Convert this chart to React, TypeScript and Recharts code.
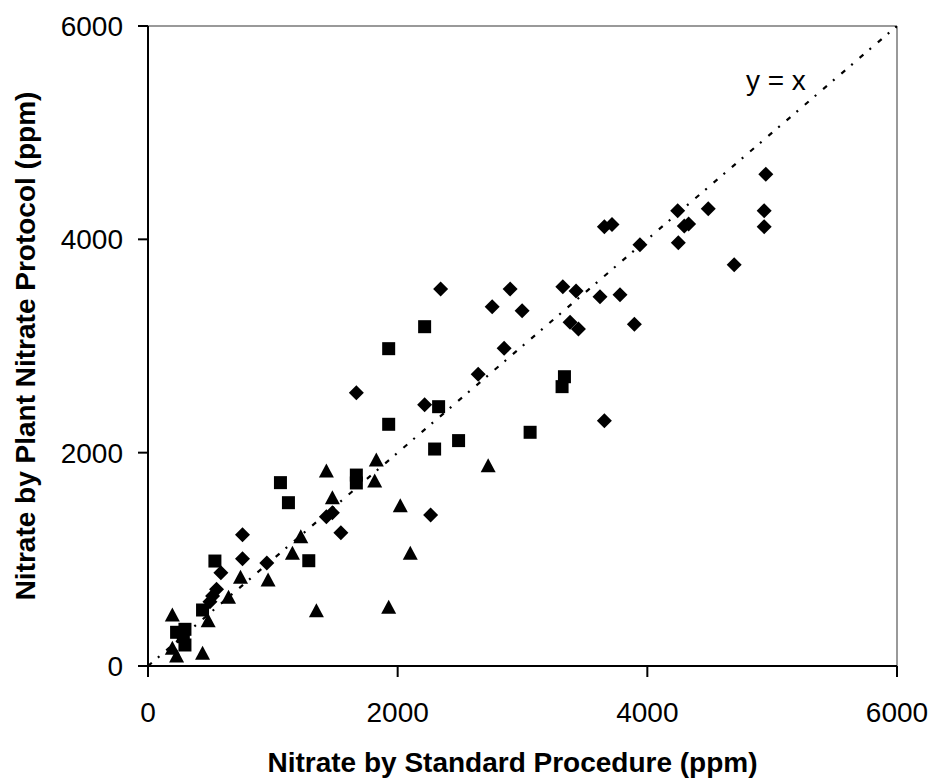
import { Label, ReferenceDot, ReferenceLine, Scatter, ScatterChart, XAxis, YAxis } from "recharts";

const FONT = "'Liberation Sans', Arial, Helvetica, sans-serif";

const axisTicks = [0, 2000, 4000, 6000];

// series 1: diamonds
const diamondX = [
  4949, 4936, 4936, 4696, 4488, 4243, 4296, 4331, 4248, 3941, 3656, 3717, 3323, 3429, 3621, 3781, 3381, 3448,
  3896, 3656, 2344, 2901, 2757, 2997, 2853, 2645, 1669, 2216, 2264, 1545, 1477, 1429, 757, 757, 584, 952, 549,
  517, 496,
];
const diamondY = [
  4610, 4269, 4119, 3762, 4287, 4269, 4125, 4144, 3969, 3950, 4119, 4138, 3556, 3516, 3462, 3481, 3222, 3159,
  3203, 2300, 3534, 3534, 3369, 3331, 2978, 2734, 2562, 2450, 1416, 1250, 1437, 1400, 1231, 1006, 875, 966, 719,
  656, 603,
];

// series 2: squares
const squareX = [3336, 3317, 2216, 1928, 2328, 1928, 2296, 2488, 3061, 1669, 1669, 1061, 1125, 1288, 536, 437, 229, 296, 283, 296];
const squareY = [2712, 2619, 3181, 2975, 2431, 2266, 2034, 2113, 2191, 1790, 1716, 1719, 1531, 987, 984, 525, 316, 344, 275, 197];

// series 3: triangles
const triangleX = [1829, 2725, 1816, 2021, 2101, 1928, 1429, 1477, 1224, 1157, 1349, 741, 962, 645, 482, 195, 195, 229, 437];
const triangleY = [1931, 1878, 1734, 1503, 1056, 550, 1828, 1578, 1212, 1056, 519, 831, 806, 644, 425, 478, 166, 94, 119];

const identityLine = [
  { x: 0, y: 0 },
  { x: 6000, y: 6000 },
];

const toPoints = (xs: number[], ys: number[]) => xs.map((x, i) => ({ x, y: ys[i] }));

const DiamondShape = (p: any) => (
  <polygon
    points={`${p.cx},${p.cy - 7.5} ${p.cx + 7.5},${p.cy} ${p.cx},${p.cy + 7.5} ${p.cx - 7.5},${p.cy}`}
    fill="#000"
  />
);
const SquareShape = (p: any) => <rect x={p.cx - 6.5} y={p.cy - 6.5} width={13} height={13} fill="#000" />;
const TriangleShape = (p: any) => (
  <polygon
    points={`${p.cx},${p.cy - 7.5} ${p.cx + 7.5},${p.cy + 6.5} ${p.cx - 7.5},${p.cy + 6.5}`}
    fill="#000"
  />
);
const EndDot = (p: any) => <circle cx={p.cx} cy={p.cy} r={2.4} fill="#000" />;

const tickStyle = { fontSize: 28, fill: "#000", fontFamily: FONT };

export default function App() {
  return (
    <div style={{ position: "absolute", left: 0, top: 0, width: 930, height: 778, background: "#fff" }}>
      <ScatterChart width={930} height={778} margin={{ top: 26, right: 33, bottom: 0, left: 0 }}>
        <XAxis
          type="number"
          dataKey="x"
          domain={[0, 6000]}
          ticks={axisTicks}
          allowDataOverflow
          height={112}
          tick={tickStyle}
          tickSize={11}
          tickMargin={25}
          axisLine={{ stroke: "#000", strokeWidth: 2 }}
          tickLine={{ stroke: "#000", strokeWidth: 2 }}
        >
          <Label
            content={(props: any) => {
              const vb = props.viewBox;
              return (
                <text
                  x={vb.x + vb.width / 2 - 10}
                  y={772}
                  textAnchor="middle"
                  fontSize={28}
                  fontWeight="bold"
                  fontFamily={FONT}
                  fill="#000"
                >
                  Nitrate by Standard Procedure (ppm)
                </text>
              );
            }}
          />
        </XAxis>
        <YAxis
          type="number"
          dataKey="y"
          domain={[0, 6000]}
          ticks={axisTicks}
          allowDataOverflow
          width={148}
          tick={tickStyle}
          tickSize={10}
          tickMargin={15}
          axisLine={{ stroke: "#000", strokeWidth: 2 }}
          tickLine={{ stroke: "#000", strokeWidth: 2 }}
        >
          <Label
            content={(props: any) => {
              const vb = props.viewBox;
              const cx = 25;
              const cy = vb.y + vb.height / 2;
              return (
                <text
                  x={cx}
                  y={cy}
                  dy="0.36em"
                  transform={`rotate(-90, ${cx}, ${cy})`}
                  textAnchor="middle"
                  fontSize={28}
                  fontWeight="bold"
                  fontFamily={FONT}
                  fill="#000"
                >
                  Nitrate by Plant Nitrate Protocol (ppm)
                </text>
              );
            }}
          />
        </YAxis>
        <ReferenceLine y={6000} stroke="#999" strokeWidth={2} />
        <ReferenceLine x={6000} stroke="#999" strokeWidth={2} />
        <Scatter
          data={identityLine}
          line={{ stroke: "#000", strokeWidth: 2.2, strokeDasharray: "5 8 2 9" }}
          shape={EndDot}
          isAnimationActive={false}
        />
        <Scatter data={toPoints(diamondX, diamondY)} shape={DiamondShape} isAnimationActive={false} />
        <Scatter data={toPoints(squareX, squareY)} shape={SquareShape} isAnimationActive={false} />
        <Scatter data={toPoints(triangleX, triangleY)} shape={TriangleShape} isAnimationActive={false} />
        <ReferenceDot
          x={5030}
          y={5490}
          r={0}
          fill="none"
          stroke="none"
          label={{ value: "y = x", position: "center", fontSize: 28, fill: "#000", fontFamily: FONT }}
        />
      </ScatterChart>
    </div>
  );
}
